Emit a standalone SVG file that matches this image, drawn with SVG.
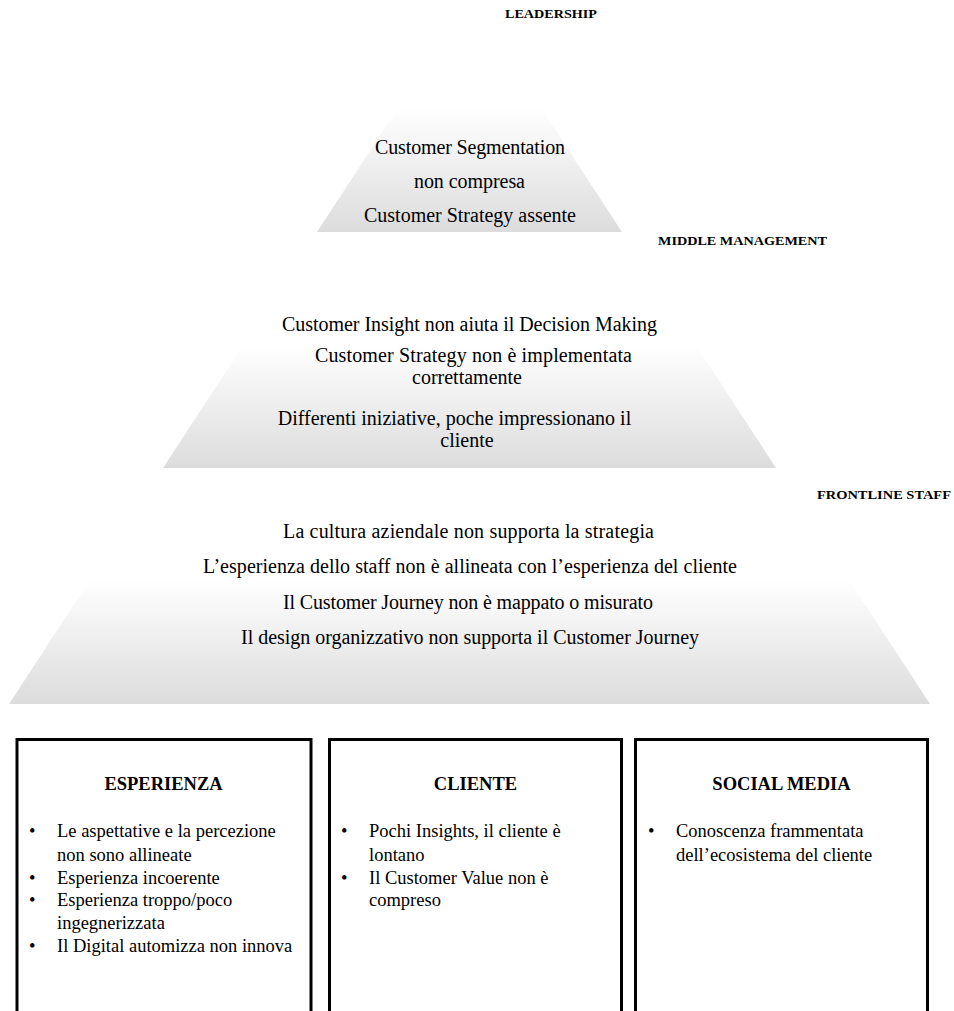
<svg xmlns="http://www.w3.org/2000/svg" width="954" height="1011" viewBox="0 0 954 1011">
  <defs>
    <!-- vertical fade used by every pyramid tier -->
    <linearGradient id="tierFill" x1="0" y1="0" x2="0" y2="1">
      <stop offset="0" stop-color="#ffffff"/>
      <stop offset="0.42" stop-color="#ffffff"/>
      <stop offset="1" stop-color="#dcdcdc"/>
    </linearGradient>
    <style>
      .tier { fill: url(#tierFill); stroke: none; }
      .level { font-family: "Liberation Serif", "Times New Roman", serif; font-weight: bold; font-size: 12.5px; fill: #000; }
      .tt { font-family: "Liberation Serif", "Times New Roman", serif; font-size: 20px; fill: #000; text-anchor: middle; }
      .box { fill: #fff; stroke: #000; stroke-width: 3; }
      .bh { font-family: "Liberation Serif", "Times New Roman", serif; font-weight: bold; font-size: 18.5px; fill: #000; text-anchor: middle; }
      .bt { font-family: "Liberation Serif", "Times New Roman", serif; font-size: 18.5px; fill: #000; }
    </style>
  </defs>
  <rect width="954" height="1011" fill="#fff"/>

  <!-- level captions -->
  <g id="labels">
    <text class="level" x="505" y="18" textLength="92" lengthAdjust="spacingAndGlyphs">LEADERSHIP</text>
    <text class="level" x="658" y="245" textLength="169" lengthAdjust="spacingAndGlyphs">MIDDLE MANAGEMENT</text>
    <text class="level" x="817" y="499" textLength="134" lengthAdjust="spacingAndGlyphs">FRONTLINE STAFF</text>
  </g>

  <!-- pyramid tier: leadership -->
  <g id="tier-leadership">
    <polygon class="tier" points="456.7,18 482.3,18 622,232 317,232"/>
    <text class="tt" x="470" y="154" textLength="190" lengthAdjust="spacing">Customer Segmentation</text>
    <text class="tt" x="469.5" y="188" textLength="111" lengthAdjust="spacing">non compresa</text>
    <text class="tt" x="470" y="222" textLength="212" lengthAdjust="spacing">Customer Strategy assente</text>
  </g>

  <!-- pyramid tier: middle management -->
  <g id="tier-middle">
    <polygon class="tier" points="302.1,255 636.9,255 776,468 163,468"/>
    <text class="tt" x="469.5" y="331" textLength="375" lengthAdjust="spacing">Customer Insight non aiuta il Decision Making</text>
    <text class="tt" x="473.5" y="362" textLength="317" lengthAdjust="spacing">Customer Strategy non è implementata</text>
    <text class="tt" x="467" y="384">correttamente</text>
    <text class="tt" x="454.5" y="425">Differenti iniziative, poche impressionano il</text>
    <text class="tt" x="467" y="447">cliente</text>
  </g>

  <!-- pyramid tier: frontline staff -->
  <g id="tier-frontline">
    <polygon class="tier" points="148.7,490 790.3,490 930,704 9,704"/>
    <text class="tt" x="468.5" y="538" textLength="371" lengthAdjust="spacing">La cultura aziendale non supporta la strategia</text>
    <text class="tt" x="470" y="573" textLength="534" lengthAdjust="spacing">L’esperienza dello staff non è allineata con l’esperienza del cliente</text>
    <text class="tt" x="468" y="609" textLength="370" lengthAdjust="spacing">Il Customer Journey non è mappato o misurato</text>
    <text class="tt" x="470" y="644" textLength="458" lengthAdjust="spacing">Il design organizzativo non supporta il Customer Journey</text>
  </g>

  <!-- box: esperienza -->
  <g id="box-esperienza">
    <rect class="box" x="17" y="739.5" width="294" height="290"/>
    <text class="bh" x="163.5" y="790">ESPERIENZA</text>
    <text class="bt" x="29" y="837">•</text>
    <text class="bt" x="57" y="837">Le aspettative e la percezione</text>
    <text class="bt" x="57" y="861">non sono allineate</text>
    <text class="bt" x="29" y="884">•</text>
    <text class="bt" x="57" y="884">Esperienza incoerente</text>
    <text class="bt" x="29" y="906">•</text>
    <text class="bt" x="57" y="906">Esperienza troppo/poco</text>
    <text class="bt" x="57" y="929">ingegnerizzata</text>
    <text class="bt" x="29" y="952">•</text>
    <text class="bt" x="57" y="952">Il Digital automizza non innova</text>
  </g>

  <!-- box: cliente -->
  <g id="box-cliente">
    <rect class="box" x="329.5" y="739.5" width="292" height="290"/>
    <text class="bh" x="475.5" y="790">CLIENTE</text>
    <text class="bt" x="341" y="837">•</text>
    <text class="bt" x="369" y="837">Pochi Insights, il cliente è</text>
    <text class="bt" x="369" y="861">lontano</text>
    <text class="bt" x="341" y="884">•</text>
    <text class="bt" x="369" y="884">Il Customer Value non è</text>
    <text class="bt" x="369" y="906">compreso</text>
  </g>

  <!-- box: social media -->
  <g id="box-social">
    <rect class="box" x="635.5" y="739.5" width="292" height="290"/>
    <text class="bh" x="781.5" y="790">SOCIAL MEDIA</text>
    <text class="bt" x="648" y="837">•</text>
    <text class="bt" x="676" y="837">Conoscenza  frammentata</text>
    <text class="bt" x="676" y="861">dell’ecosistema del cliente</text>
  </g>
</svg>
